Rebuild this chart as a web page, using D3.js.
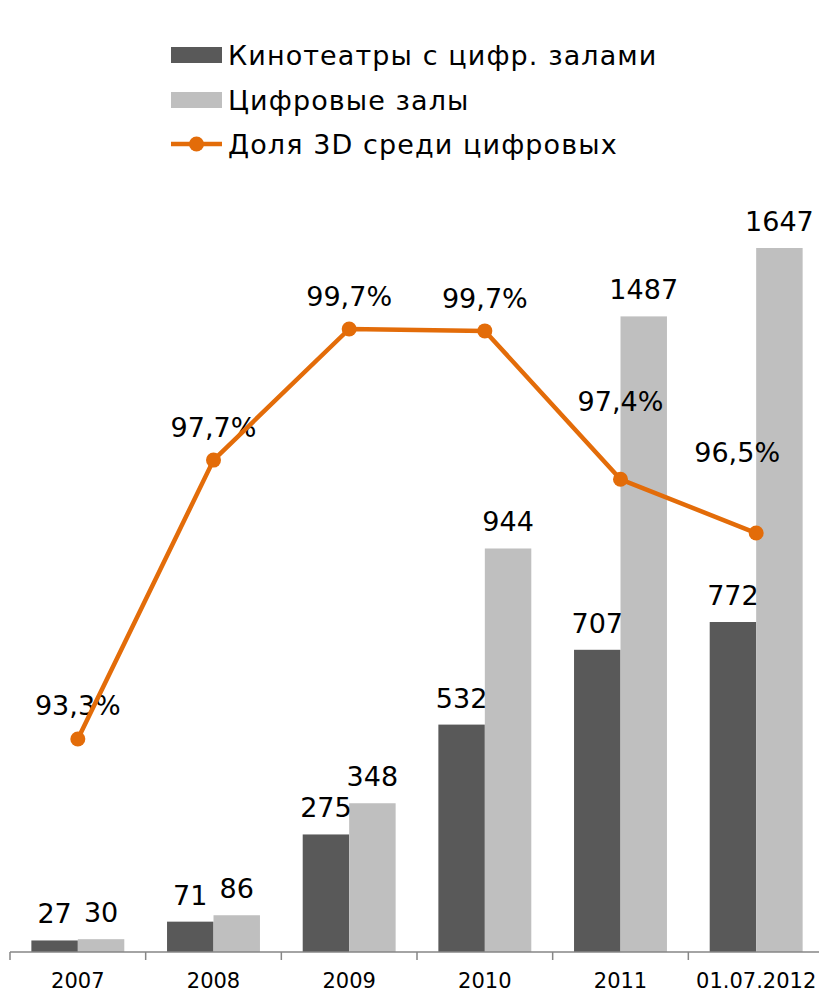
<!DOCTYPE html>
<html>
<head>
<meta charset="utf-8">
<script src="https://cdn.jsdelivr.net/npm/d3@7"></script>
<style>
  body { margin: 0; background: #fff; }
  text { font-family: "DejaVu Sans", Verdana, sans-serif; fill: #000; }
</style>
</head>
<body>
<script>
// chart data
const categories = ['2007', '2008', '2009', '2010', '2011', '01.07.2012'];
const cinemas = [27, 71, 275, 532, 707, 772];          // Кинотеатры с цифр. залами
const screens = [30, 86, 348, 944, 1487, 1647];        // Цифровые залы
const share3d = [93.3, 97.66, 99.71, 99.68, 97.36, 96.52]; // Доля 3D среди цифровых, %
const seriesNames = ['Кинотеатры с цифр. залами', 'Цифровые залы', 'Доля 3D среди цифровых'];

const width = 819, height = 993;
const colors = {dark: '#595959', light: '#bfbfbf', line: '#e36c09'};

const svg = d3.select('body').append('svg')
  .attr('width', width)
  .attr('height', height);

const baseY = 952;

// x scales: categories and the two bars inside each
const x = d3.scaleBand()
  .domain(categories)
  .range([10, 824])
  .padding(0);

const xInner = d3.scaleBand()
  .domain(['cinemas', 'screens'])
  .range([0, x.bandwidth()])
  .paddingOuter(0.46);

// y scales: counts (left) and share (right, hidden)
const y = d3.scaleLinear()
  .domain([0, 1647])
  .range([baseY, 248]);

const y2 = d3.scaleLinear()
  .domain([93.3, 99.71])
  .range([739, 329]);

const rows = categories.map((c, i) => ({cat: c, cinemas: cinemas[i], screens: screens[i], share: share3d[i]}));

// bars
const groups = svg.append('g').selectAll('g')
  .data(rows)
  .enter().append('g')
  .attr('transform', d => 'translate(' + x(d.cat) + ',0)');

groups.append('rect')
  .attr('x', xInner('cinemas'))
  .attr('width', xInner.bandwidth())
  .attr('y', d => y(d.cinemas))
  .attr('height', d => baseY - y(d.cinemas))
  .attr('fill', colors.dark);

groups.append('rect')
  .attr('x', xInner('screens'))
  .attr('width', xInner.bandwidth())
  .attr('y', d => y(d.screens))
  .attr('height', d => baseY - y(d.screens))
  .attr('fill', colors.light);

// bar labels
groups.append('text')
  .attr('x', xInner('cinemas') + xInner.bandwidth() / 2)
  .attr('y', d => y(d.cinemas) - 17)
  .attr('text-anchor', 'middle')
  .style('font-size', '27px')
  .text(d => d.cinemas);

groups.append('text')
  .attr('x', xInner('screens') + xInner.bandwidth() / 2)
  .attr('y', d => y(d.screens) - 17)
  .attr('text-anchor', 'middle')
  .style('font-size', '27px')
  .text(d => d.screens);

// x axis
const axis = svg.append('g')
  .attr('transform', 'translate(0,' + baseY + ')');

axis.append('line')
  .attr('x1', 10).attr('x2', width)
  .attr('stroke', '#868686').attr('stroke-width', 1.5);

axis.selectAll('line.tick')
  .data(categories)
  .enter().append('line')
  .attr('class', 'tick')
  .attr('x1', d => x(d)).attr('x2', d => x(d))
  .attr('y1', 0).attr('y2', 8)
  .attr('stroke', '#868686').attr('stroke-width', 1.5);

axis.selectAll('text')
  .data(categories)
  .enter().append('text')
  .attr('x', d => x(d) + x.bandwidth() / 2)
  .attr('y', 36)
  .attr('text-anchor', 'middle')
  .style('font-size', '21px')
  .text(d => d);

// share line labels (Excel moved the last two up by hand)
const labelDx = [0, 0, 0, 0, 0, -19];
const labelDy = [-34, -33, -33, -33, -78, -81];
const fmt = d3.format('.1f');

svg.append('g').selectAll('text')
  .data(rows)
  .enter().append('text')
  .attr('x', (d, i) => x(d.cat) + x.bandwidth() / 2 + labelDx[i])
  .attr('y', (d, i) => y2(d.share) + labelDy[i] + 10)
  .attr('text-anchor', 'middle')
  .style('font-size', '27px')
  .text(d => fmt(d.share).replace('.', ',') + '%');

// share line
const line = d3.line()
  .x(d => x(d.cat) + x.bandwidth() / 2)
  .y(d => y2(d.share));

svg.append('path')
  .datum(rows)
  .attr('d', line)
  .attr('fill', 'none')
  .attr('stroke', colors.line)
  .attr('stroke-width', 4.5)
  .attr('stroke-linejoin', 'round');

svg.append('g').selectAll('circle')
  .data(rows)
  .enter().append('circle')
  .attr('cx', d => x(d.cat) + x.bandwidth() / 2)
  .attr('cy', d => y2(d.share))
  .attr('r', 7.5)
  .attr('fill', colors.line);

// legend
const legend = svg.append('g');
const legendY = [55, 100, 144];

legend.append('rect')
  .attr('x', 171).attr('y', legendY[0] - 8)
  .attr('width', 51).attr('height', 16)
  .attr('fill', colors.dark);

legend.append('rect')
  .attr('x', 171).attr('y', legendY[1] - 8)
  .attr('width', 51).attr('height', 16)
  .attr('fill', colors.light);

legend.append('line')
  .attr('x1', 171).attr('x2', 222)
  .attr('y1', legendY[2]).attr('y2', legendY[2])
  .attr('stroke', colors.line).attr('stroke-width', 4.5);

legend.append('circle')
  .attr('cx', 196.5).attr('cy', legendY[2])
  .attr('r', 7.5)
  .attr('fill', colors.line);

legend.selectAll('text')
  .data(seriesNames)
  .enter().append('text')
  .attr('x', 228)
  .attr('y', (d, i) => legendY[i] + 10)
  .style('font-size', '27px')
  .style('letter-spacing', '1.1px')
  .text(d => d);
</script>
</body>
</html>
